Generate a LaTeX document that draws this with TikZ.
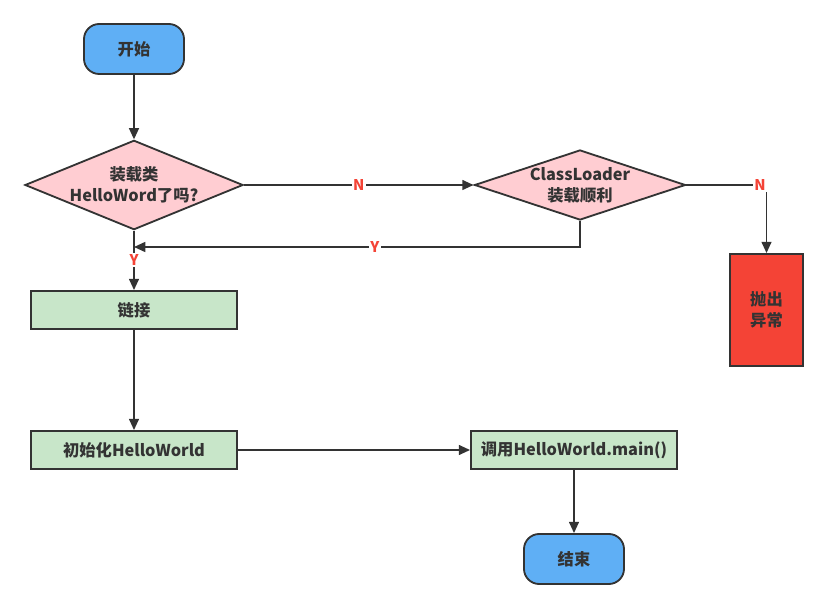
\documentclass[tikz,border=0pt]{standalone}
\usepackage{fontspec}
\setmainfont{Noto Sans CJK SC}
\usetikzlibrary{shapes.geometric,arrows.meta}
\definecolor{termblue}{HTML}{5FAFF5}
\definecolor{decpink}{HTML}{FFCDD2}
\definecolor{stepgreen}{HTML}{C8E6C9}
\definecolor{errred}{HTML}{F44336}
\definecolor{linegray}{HTML}{333333}
\begin{document}
\begin{tikzpicture}[x=0.025cm,y=-0.025cm,
  font=\fontsize{11.6}{15}\selectfont\bfseries,
  every node/.style={text=linegray,align=center},
  term/.style={draw=linegray,line width=1.3pt,fill=termblue,rounded corners=0.38cm,minimum width=2.5cm,minimum height=1.25cm},
  decide/.style={diamond,draw=linegray,line width=1.3pt,fill=decpink,inner sep=0pt},
  stepbox/.style={rectangle,draw=linegray,line width=1.3pt,fill=stepgreen,minimum width=5.15cm,minimum height=0.95cm},
  flow/.style={draw=linegray,line width=1.3pt,-{Triangle[length=8pt,width=7pt]}},
  lbl/.style={text=errred,fill=white,inner sep=1pt,font=\fontsize{10.5}{12}\selectfont\bfseries}]
\useasboundingbox (0,0) rectangle (828,609);
\node[term] (start) at (134,49) {开始};
\node[decide,aspect=2.44,minimum width=5.425cm,minimum height=2.225cm] (loaded) at (134,185) {装载类\\HelloWord了吗?};
\node[decide,aspect=3.0,minimum width=5.275cm,minimum height=1.75cm] (cl) at (580,185) {ClassLoader\\装载顺利};
\node[rectangle,draw=linegray,line width=1.3pt,fill=errred,minimum width=1.825cm,minimum height=2.8cm] (err) at (766.5,310) {抛出\\异常};
\node[stepbox] (link) at (134,310) {链接};
\node[stepbox] (init) at (134,450) {初始化HelloWorld};
\node[stepbox] (call) at (574,450) {调用HelloWorld.main()};
\node[term] (stop) at (574,559) {结束};
\coordinate (merge) at (134,247);
\draw[flow] (start) -- (loaded);
\draw[flow] (loaded) -- node[lbl] {N} (cl);
\draw[flow] (cl.east) -| node[lbl,pos=0.46] {N} (err.north);
\draw[flow] (cl.south) |- node[lbl,pos=0.73] {Y} (merge);
\draw[flow] (loaded) -- node[lbl] {Y} (link);
\draw[flow] (link) -- (init);
\draw[flow] (init) -- (call);
\draw[flow] (call) -- (stop);
\end{tikzpicture}
\end{document}
